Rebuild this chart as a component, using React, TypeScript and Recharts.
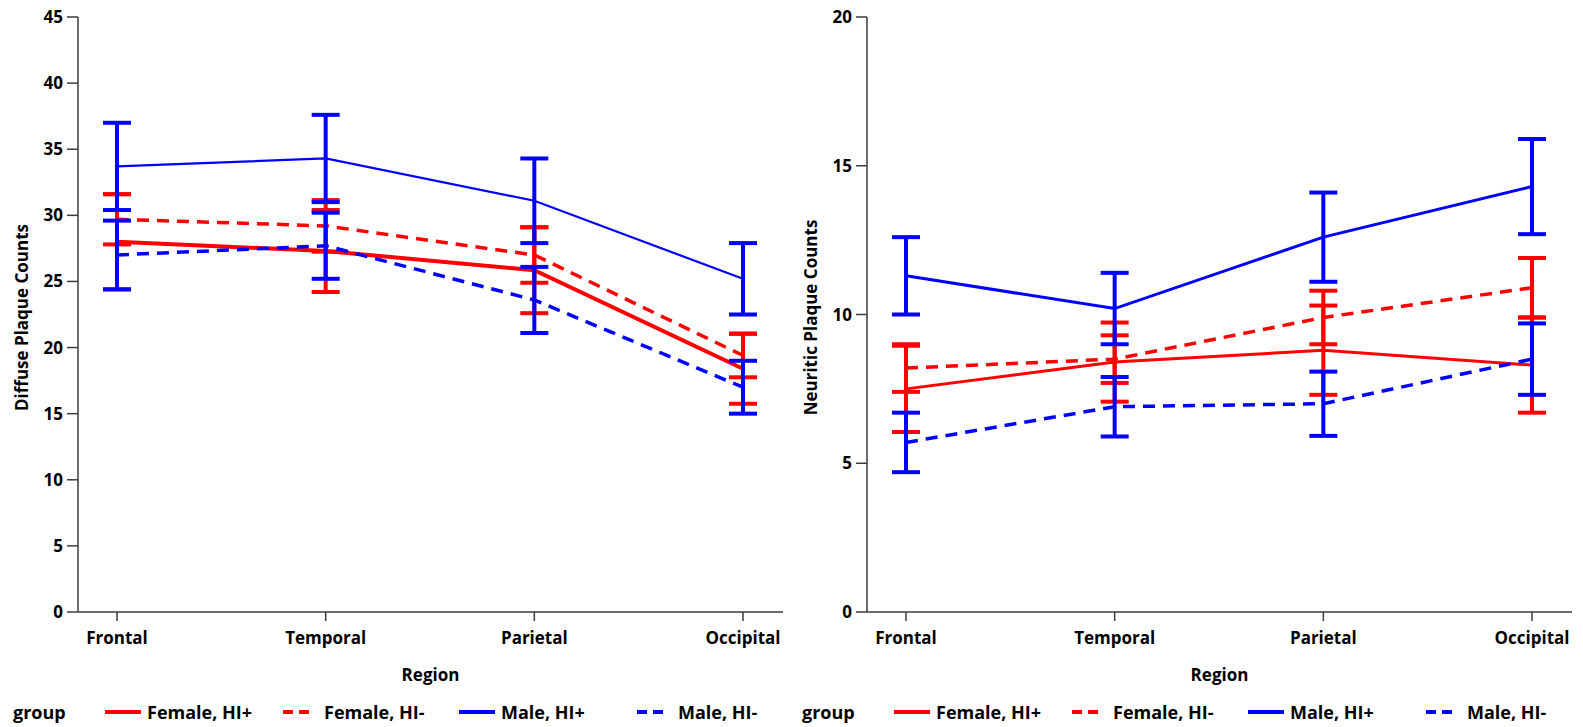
import { ErrorBar, Line, LineChart, XAxis, YAxis } from "recharts";

const regions = ["Frontal", "Temporal", "Parietal", "Occipital"];

// diffuse plaque counts (left panel)
const diffuseFemalePos = [28.0, 27.3, 25.85, 18.4];
const diffuseFemalePosErr = [3.6, 3.1, 3.25, 2.65];
const diffuseFemaleNeg = [29.7, 29.2, 27.0, 19.4];
const diffuseFemaleNegErr = [1.9, 1.95, 2.1, 1.65];
const diffuseMalePos = [33.7, 34.3, 31.1, 25.2];
const diffuseMalePosErr = [3.3, 3.3, 3.2, 2.7];
const diffuseMaleNeg = [27.0, 27.7, 23.6, 17.0];
const diffuseMaleNegErr = [2.6, 2.5, 2.5, 2.0];

// neuritic plaque counts (right panel)
const neuriticFemalePos = [7.5, 8.4, 8.8, 8.3];
const neuriticFemalePosErr = [1.45, 1.33, 1.5, 1.6];
const neuriticFemaleNeg = [8.2, 8.5, 9.9, 10.9];
const neuriticFemaleNegErr = [0.8, 0.8, 0.9, 1.0];
const neuriticMalePos = [11.3, 10.2, 12.6, 14.3];
const neuriticMalePosErr = [1.3, 1.2, 1.5, 1.6];
const neuriticMaleNeg = [5.7, 6.9, 7.0, 8.5];
const neuriticMaleNegErr = [1.0, 1.0, 1.08, 1.2];

const diffuseTicks = [0, 5, 10, 15, 20, 25, 30, 35, 40, 45];
const neuriticTicks = [0, 5, 10, 15, 20];

const groups = ["Female, HI+", "Female, HI-", "Male, HI+", "Male, HI-"];

const RED = "#ff0000";
const BLUE = "#0000ff";
const FRAME = "#3c3c3c";
const FONT = "'Open Sans', 'DejaVu Sans', sans-serif";

function buildRows(fp: number[], fpe: number[], fn: number[], fne: number[], mp: number[], mpe: number[], mn: number[], mne: number[]) {
  return regions.map((region, i) => ({
    region,
    fp: fp[i],
    fpErr: fpe[i],
    fn: fn[i],
    fnErr: fne[i],
    mp: mp[i],
    mpErr: mpe[i],
    mn: mn[i],
    mnErr: mne[i]
  }));
}

const diffuseRows = buildRows(
  diffuseFemalePos, diffuseFemalePosErr, diffuseFemaleNeg, diffuseFemaleNegErr,
  diffuseMalePos, diffuseMalePosErr, diffuseMaleNeg, diffuseMaleNegErr
);
const neuriticRows = buildRows(
  neuriticFemalePos, neuriticFemalePosErr, neuriticFemaleNeg, neuriticFemaleNegErr,
  neuriticMalePos, neuriticMalePosErr, neuriticMaleNeg, neuriticMaleNegErr
);

const tickStyle = { fill: "#000", fontSize: 17, fontWeight: 700, fontFamily: FONT };

function GroupLegend() {
  const styles = [
    { color: RED, dashed: false },
    { color: RED, dashed: true },
    { color: BLUE, dashed: false },
    { color: BLUE, dashed: true }
  ];
  return (
    <div
      style={{
        position: "absolute",
        top: 699,
        left: 13,
        height: 26,
        display: "flex",
        alignItems: "center",
        fontFamily: FONT,
        fontWeight: 700,
        fontSize: 18,
        color: "#000"
      }}
    >
      <span style={{ width: 92 }}>group</span>
      {groups.map((g, i) => (
        <div key={g} style={{ width: 177, display: "flex", alignItems: "center" }}>
          <svg width={36} height={10} style={{ marginRight: 6 }}>
            {styles[i].dashed ? (
              <line x1={1} y1={5} x2={27} y2={5} stroke={styles[i].color} strokeWidth={4} strokeDasharray="10 6" />
            ) : (
              <line x1={0} y1={5} x2={36} y2={5} stroke={styles[i].color} strokeWidth={4} />
            )}
          </svg>
          <span>{g}</span>
        </div>
      ))}
    </div>
  );
}

function Panel({
  rows,
  ticks,
  yLabel,
  solidWidths,
  left
}: {
  rows: ReturnType<typeof buildRows>;
  ticks: number[];
  yLabel: string;
  solidWidths: [number, number];
  left: number;
}) {
  const top = ticks[ticks.length - 1];
  const pad = { left: 39, right: 40 };
  const renderYLabel = (props: any) => {
    const vb = props.viewBox || { x: 0, y: 17, width: 78, height: 595 };
    const cx = vb.x + 21;
    const cy = vb.y + vb.height / 2 + 3;
    return (
      <text
        x={cx}
        y={cy}
        transform={`rotate(-90, ${cx}, ${cy})`}
        textAnchor="middle"
        dominantBaseline="central"
        style={tickStyle}
      >
        {yLabel}
      </text>
    );
  };
  return (
    <div style={{ position: "absolute", left, top: 0, width: 790, height: 727 }}>
      <LineChart width={790} height={727} data={rows} margin={{ top: 17, right: 7, left: 0, bottom: 40 }}>
        <XAxis
          dataKey="region"
          padding={pad}
          height={75}
          tickSize={9}
          tickMargin={11}
          tick={tickStyle}
          axisLine={{ stroke: FRAME, strokeWidth: 1.5 }}
          tickLine={{ stroke: FRAME, strokeWidth: 1.5 }}
          label={{
            value: "Region",
            position: "insideBottom",
            offset: 6,
            style: { ...tickStyle, textAnchor: "middle" }
          }}
        />
        <XAxis
          xAxisId="frameTop"
          orientation="top"
          dataKey="region"
          padding={pad}
          height={0}
          tick={false}
          tickLine={false}
          axisLine={{ stroke: FRAME, strokeWidth: 1.5 }}
        />
        <YAxis
          width={78}
          domain={[0, top]}
          ticks={ticks}
          interval={0}
          tickSize={11}
          tickMargin={4}
          tick={tickStyle}
          axisLine={{ stroke: FRAME, strokeWidth: 1.5 }}
          tickLine={{ stroke: FRAME, strokeWidth: 1.5 }}
          label={renderYLabel}
        />
        <YAxis
          yAxisId="frameRight"
          orientation="right"
          width={0}
          domain={[0, top]}
          tick={false}
          tickLine={false}
          axisLine={{ stroke: FRAME, strokeWidth: 1.5 }}
        />
        <Line type="linear" dataKey="fp" stroke={RED} strokeWidth={solidWidths[0]} dot={false} isAnimationActive={false}>
          <ErrorBar dataKey="fpErr" direction="y" width={14} strokeWidth={4} stroke={RED} isAnimationActive={false} />
        </Line>
        <Line type="linear" dataKey="fn" stroke={RED} strokeWidth={3.5} strokeDasharray="12 8" dot={false} isAnimationActive={false}>
          <ErrorBar dataKey="fnErr" direction="y" width={14} strokeWidth={4} stroke={RED} isAnimationActive={false} />
        </Line>
        <Line type="linear" dataKey="mp" stroke={BLUE} strokeWidth={solidWidths[1]} dot={false} isAnimationActive={false}>
          <ErrorBar dataKey="mpErr" direction="y" width={14} strokeWidth={4} stroke={BLUE} isAnimationActive={false} />
        </Line>
        <Line type="linear" dataKey="mn" stroke={BLUE} strokeWidth={3.5} strokeDasharray="12 8" dot={false} isAnimationActive={false}>
          <ErrorBar dataKey="mnErr" direction="y" width={14} strokeWidth={4} stroke={BLUE} isAnimationActive={false} />
        </Line>
      </LineChart>
      <GroupLegend />
    </div>
  );
}

export default function App() {
  return (
    <div style={{ position: "absolute", left: 0, top: 0, width: 1583, height: 727, background: "#fff" }}>
      <Panel rows={diffuseRows} ticks={diffuseTicks} yLabel="Diffuse Plaque Counts" solidWidths={[4, 2.2]} left={0} />
      <Panel rows={neuriticRows} ticks={neuriticTicks} yLabel="Neuritic Plaque Counts" solidWidths={[3, 3]} left={789} />
    </div>
  );
}
